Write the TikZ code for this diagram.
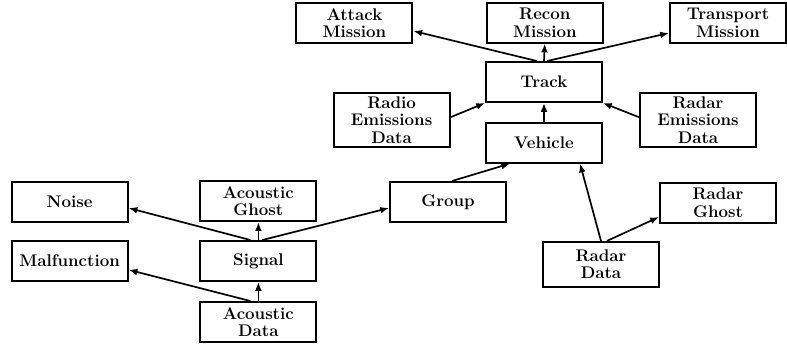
\documentclass[tikz,border=0pt]{standalone}
\usetikzlibrary{arrows.meta}

\begin{document}
\begin{tikzpicture}[
        box/.style={rectangle, draw, line width=1.4pt, minimum width=2.9cm, minimum height=1cm,
            inner sep=1pt, align=center, font=\fontsize{12}{12.5}\selectfont\bfseries},
        arr/.style={-{Latex[length=2.2mm, width=1.7mm]}, line width=1.2pt}
    ]
        \useasboundingbox (0, 0) rectangle (19.675, 8.65);

        \node[box] at (8.86, 8.075)  (attack)    {Attack\\Mission};
        \node[box] at (13.62, 8.085) (recon)     {Recon\\Mission};
        \node[box] at (18.2, 8.075)  (transport) {Transport\\Mission};

        \node[box] at (13.6, 6.6)    (track)     {Track};
        \node[box, minimum height=1.35cm] at (9.79, 5.65)  (radio)   {Radio\\Emissions\\Data};
        \node[box, minimum height=1.35cm] at (17.45, 5.65) (radarem) {Radar\\Emissions\\Data};
        \node[box] at (13.6, 5.085)  (vehicle)   {Vehicle};

        \node[box] at (1.74, 3.61)   (noise)     {Noise};
        \node[box] at (6.46, 3.62)   (aghost)    {Acoustic\\Ghost};
        \node[box] at (11.2, 3.6)    (group)     {Group};
        \node[box] at (17.95, 3.575) (rghost)    {Radar\\Ghost};

        \node[box] at (1.74, 2.125)  (malf)      {Malfunction};
        \node[box] at (6.46, 2.125)  (signal)    {Signal};
        \node[box] at (6.46, 0.6)    (adata)     {Acoustic\\Data};
        \node[box, minimum height=1.125cm] at (15.025, 2.04) (rdata) {Radar\\Data};

        \draw[arr]  ([xshift=-0.2cm]signal.north) -- ([yshift=-0.16cm]noise.east);
        \draw[arr]  (signal.north) -- (aghost.south);
        \draw[arr]  ([xshift=0.1cm]signal.north) -- ([yshift=-0.15cm]group.west);

        \draw[arr]  ([xshift=-0.2cm]adata.north) -- ([yshift=-0.22cm]malf.east);
        \draw[arr]  (adata.north) -- (signal.south);

        \draw[arr]  ([xshift=0.1cm]group.north) -- ([xshift=-0.85cm]vehicle.south);
        \draw[arr]  (rdata.north) -- ([xshift=0.9cm]vehicle.south);
        \draw[arr]  ([xshift=0.15cm]rdata.north) -- ([yshift=-0.35cm]rghost.west);

        \draw[arr]  (vehicle.north) -- (track.south);
        \draw[arr]  ([yshift=0.07cm]radio.east) -- (track.south west);
        \draw[arr]  ([yshift=0.07cm]radarem.west) -- (track.south east);

        \draw[arr]  ([xshift=-0.18cm]track.north) -- ([yshift=-0.2cm]attack.east);
        \draw[arr]  (track.north) -- (recon.south);
        \draw[arr]  ([xshift=0.08cm]track.north) -- ([yshift=-0.25cm]transport.west);
    \end{tikzpicture}
\end{document}
